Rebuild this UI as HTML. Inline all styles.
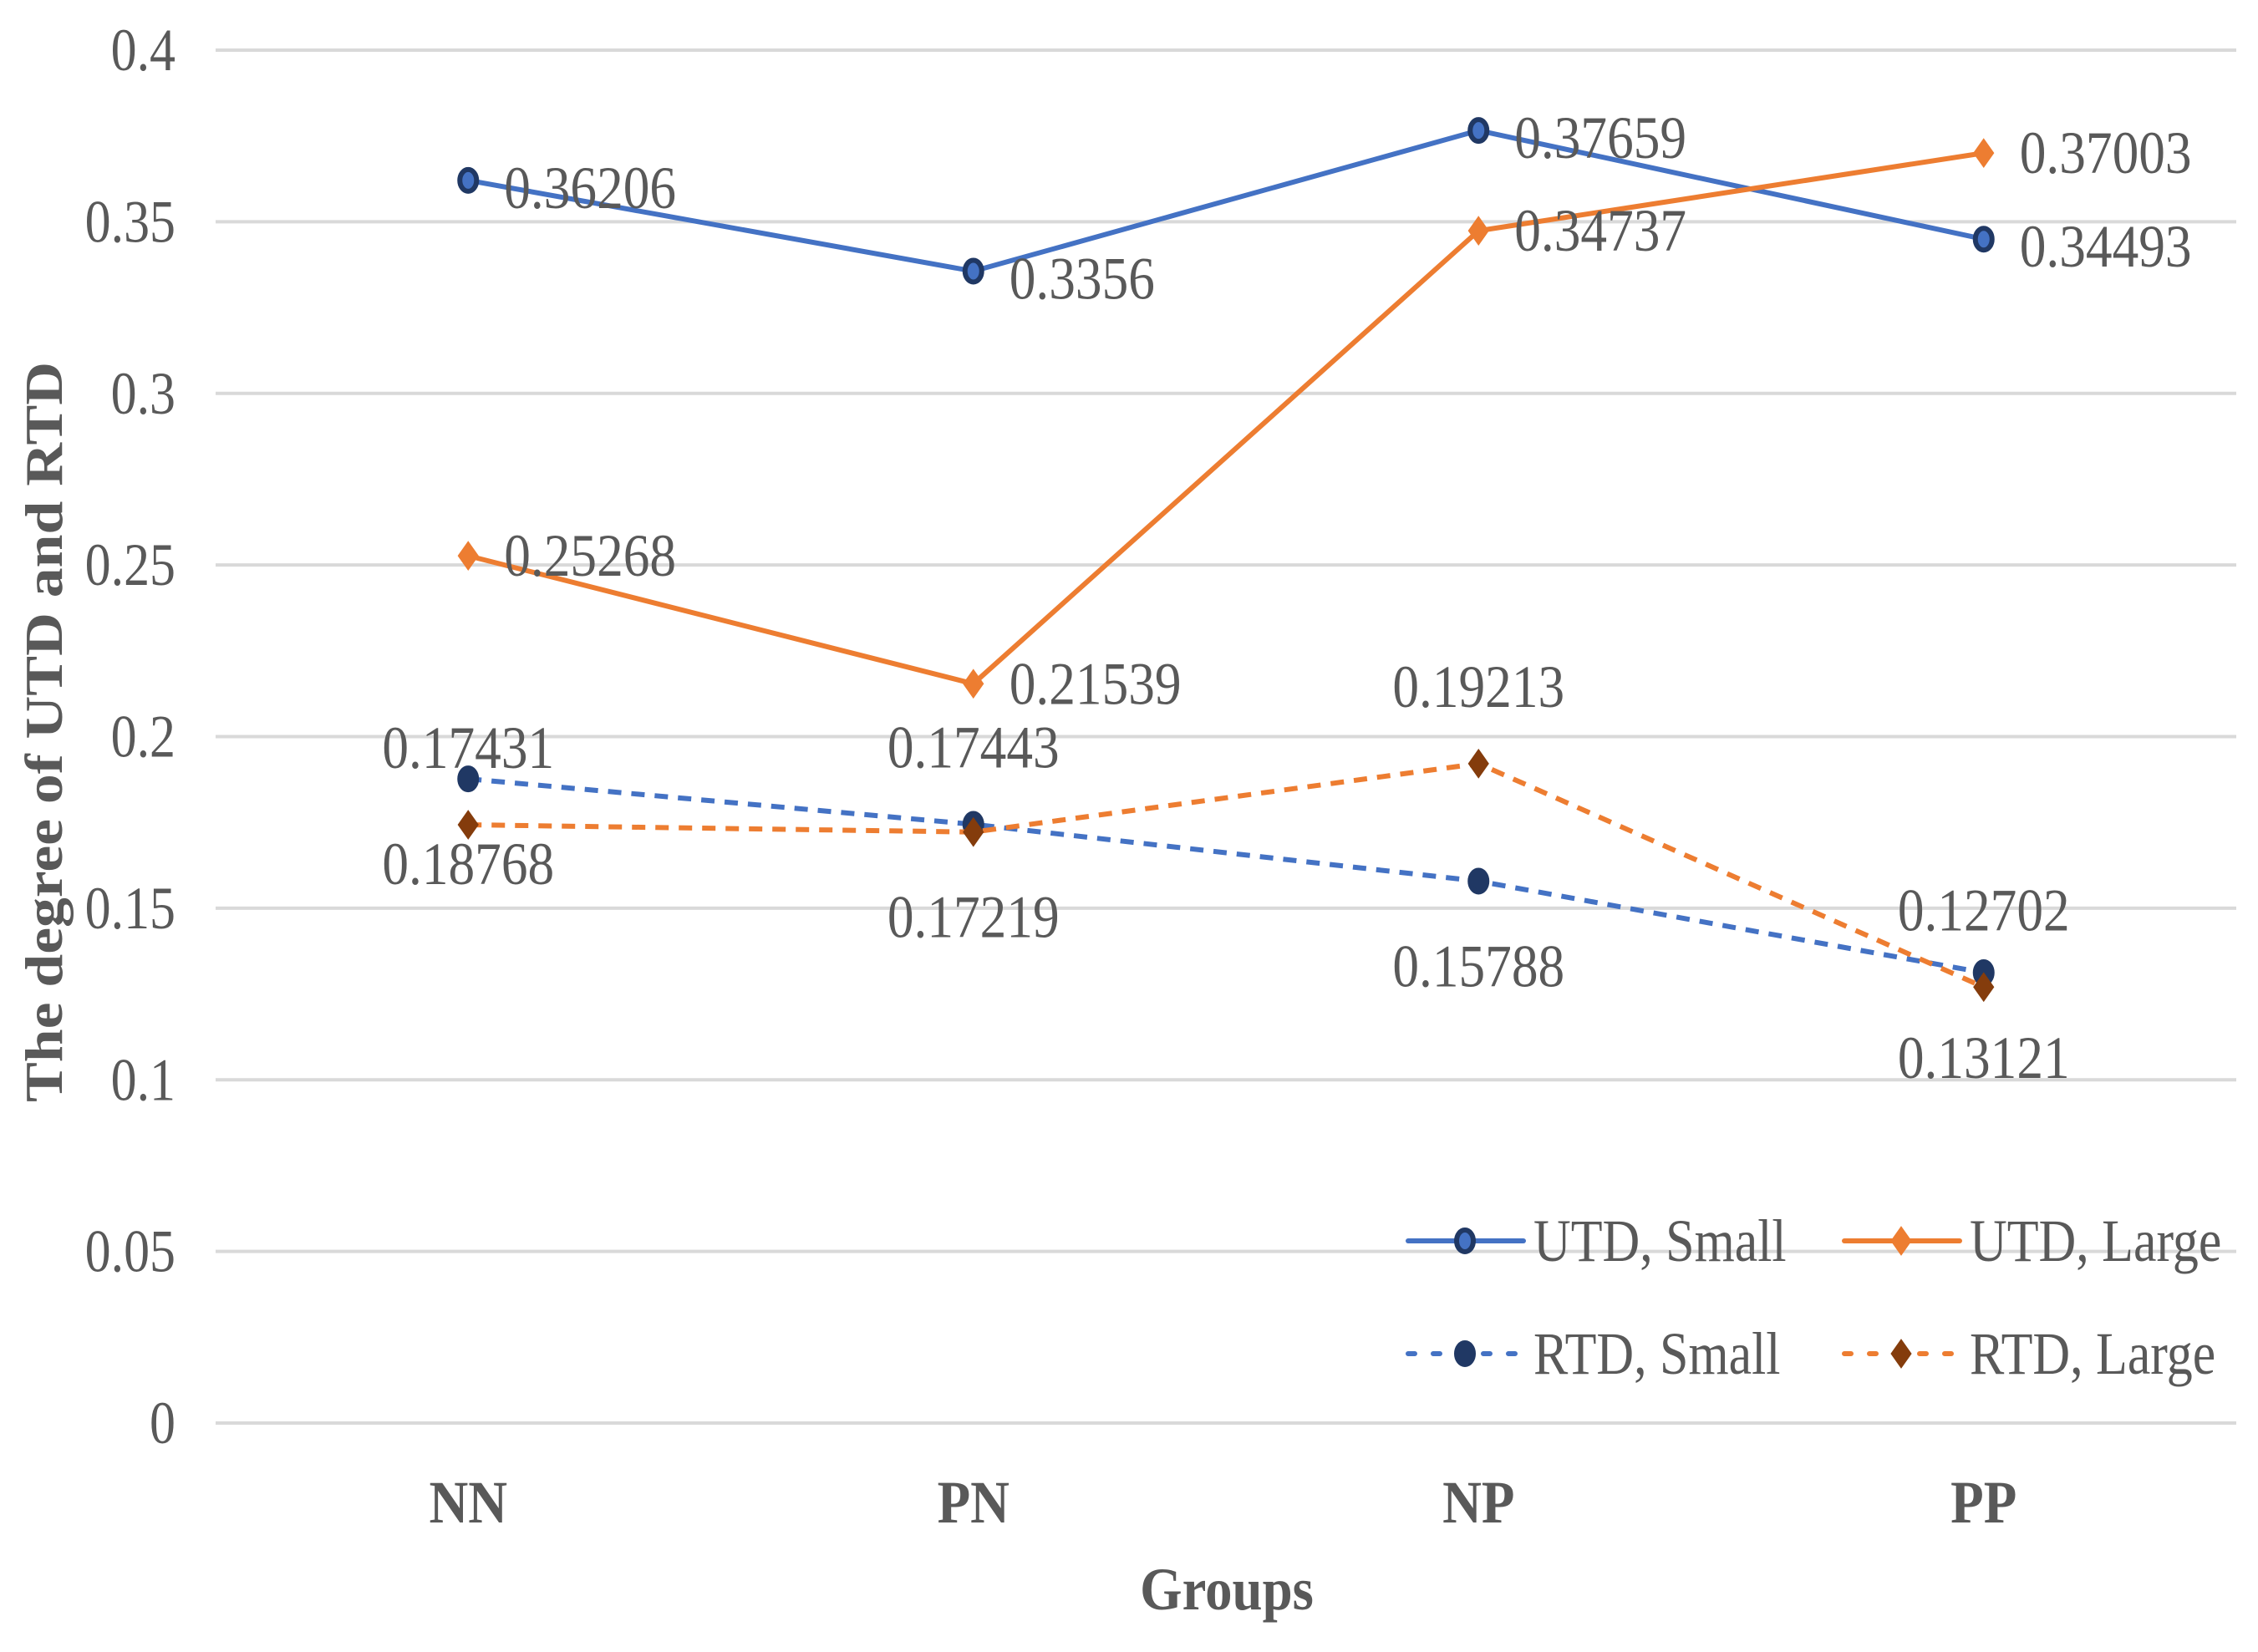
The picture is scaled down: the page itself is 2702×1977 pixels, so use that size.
<!DOCTYPE html>
<html><head><meta charset="utf-8"><style>
html,body{margin:0;padding:0;background:#fff;}
svg{display:block;}
text{font-family:"Liberation Serif",serif;fill:#595959;}
</style></head><body>
<svg id="chart" width="2702" height="1977" viewBox="0 0 2702 1977" xmlns="http://www.w3.org/2000/svg">
<g id="grid"></g>
<g id="yticks"></g>
<g id="xticks"></g>
<g id="series"></g>
<g id="labels"></g>
<g id="legend"></g>
<text transform="translate(1468,1926) scale(0.9,1)" text-anchor="middle" font-size="72" font-weight="bold">Groups</text>
<text transform="translate(74,876) rotate(-90) scale(1.12,1)" text-anchor="middle" font-size="64" font-weight="bold">The degree of UTD and RTD</text>
</svg>
<script>
const categories = ["NN","PN","NP","PP"];
const yTicks = [0,0.05,0.1,0.15,0.2,0.25,0.3,0.35,0.4];
const yTickLabels = ["0","0.05","0.1","0.15","0.2","0.25","0.3","0.35","0.4"];
const seriesNames = ["UTD, Small","UTD, Large","RTD, Small","RTD, Large"];
const utdSmall = [0.36206,0.3356,0.37659,0.34493];
const utdLarge = [0.25268,0.21539,0.34737,0.37003];
const rtdSmall = [0.18768,0.17443,0.15788,0.13121];
const rtdLarge = [0.17431,0.17219,0.19213,0.12702];
const utdSmallText = ["0.36206","0.3356","0.37659","0.34493"];
const utdLargeText = ["0.25268","0.21539","0.34737","0.37003"];
const rtdSmallText = ["0.18768","0.17443","0.15788","0.13121"];
const rtdLargeText = ["0.17431","0.17219","0.19213","0.12702"];

const NS="http://www.w3.org/2000/svg";
const L=258,R=2676,Y0=1703,Y1=60,YMAX=0.4;
function xPos(i){return L+(R-L)/categories.length*(i+0.5);}
function yPos(v){return Y0-(Y0-Y1)*v/YMAX;}
function mk(tag,attrs,parent){const e=document.createElementNS(NS,tag);for(const k in attrs)e.setAttribute(k,attrs[k]);parent.appendChild(e);return e;}
function txt(parent,x,y,s,size,anchor,bold,sx){const t=mk('text',{transform:`translate(${x},${y}) scale(${sx||0.86},1)`,'font-size':size,'text-anchor':anchor},parent);if(bold)t.setAttribute('font-weight','bold');t.textContent=s;return t;}

const grid=document.getElementById('grid'),yt=document.getElementById('yticks'),xt=document.getElementById('xticks');
yTicks.forEach((v,i)=>{
  const l=mk('line',{x1:L,x2:R,y1:yPos(v),y2:yPos(v),stroke:'#D9D9D9','stroke-width':4},grid);
  
  
  const t=txt(yt,210,yPos(v)+24,yTickLabels[i],72,'end');
  
  
});
categories.forEach((c,i)=>{
  const t=txt(xt,xPos(i),1822,c,72,'middle',true,0.9);
  
  
});

const styles=[
 {data:utdSmall,text:utdSmallText,color:'#4472C4',dash:null,marker:'circle',fill:'#4472C4',stroke:'#203864',pos:['right','right','right','right']},
 {data:utdLarge,text:utdLargeText,color:'#ED7D31',dash:null,marker:'diamond',fill:'#ED7D31',stroke:'#ED7D31',pos:['rightc','rightc','rightc','rightc']},
 {data:rtdSmall,text:rtdSmallText,color:'#4472C4',dash:'16 12',marker:'circle',fill:'#203864',stroke:'#203864',pos:['below','above','below','below']},
 {data:rtdLarge,text:rtdLargeText,color:'#ED7D31',dash:'16 12',marker:'diamond',fill:'#843C0C',stroke:'#843C0C',pos:['above','below','above','above']}
];
function marker(parent,type,x,y,fill,stroke){
  let m;
  if(type==='circle') m=mk('ellipse',{cx:x,cy:y,rx:10,ry:13,fill:fill,stroke:stroke,'stroke-width':6},parent);
  else m=mk('polygon',{points:`${x},${y-17} ${x+12},${y} ${x},${y+17} ${x-12},${y}`,fill:fill,stroke:stroke,'stroke-width':1},parent);
  return m;
}
const sg=document.getElementById('series'),lg=document.getElementById('labels');
styles.forEach((s,si)=>{
  const pts=s.data.map((v,i)=>xPos(i)+','+yPos(v)).join(' ');
  const pl=mk('polyline',{points:pts,fill:'none',stroke:s.color,'stroke-width':6,'stroke-linejoin':'round'},sg);
  if(s.dash)pl.setAttribute('stroke-dasharray',s.dash);
  
  
  s.data.forEach((v,i)=>{
    const m=marker(sg,s.marker,xPos(i),yPos(v),s.fill,s.stroke);
    
    
    let x=xPos(i),y=yPos(v),a='start';
    const p=s.pos[i];
    if(p==='right'){x+=43;y+=33;}
    else if(p==='rightc'){x+=43;y+=24;}
    else if(p==='above'){a='middle';y+=-92+24;}
    else {a='middle';y+=102+24;}
    const t=txt(lg,x,y,s.text[i],72,a,false,0.88);
    t.setAttribute('fill','#404040');
    
    
  });
});
const lgd=document.getElementById('legend');
const legPos=[[1685,1485],[2207,1485],[1685,1620],[2207,1620]];
styles.forEach((s,si)=>{
  const [x,y]=legPos[si];
  const ln=mk('line',{x1:x,x2:x+138,y1:y,y2:y,stroke:s.color,'stroke-width':6,'stroke-linecap':'round'},lgd);
  if(s.dash)ln.setAttribute('stroke-dasharray','8 22');
  
  
  const m=marker(lgd,s.marker,x+68,y,s.fill,s.stroke);
  
  
  const t=txt(lgd,x+150,y+24,seriesNames[si],72,'start');
  
  
});
</script>
</body></html>
